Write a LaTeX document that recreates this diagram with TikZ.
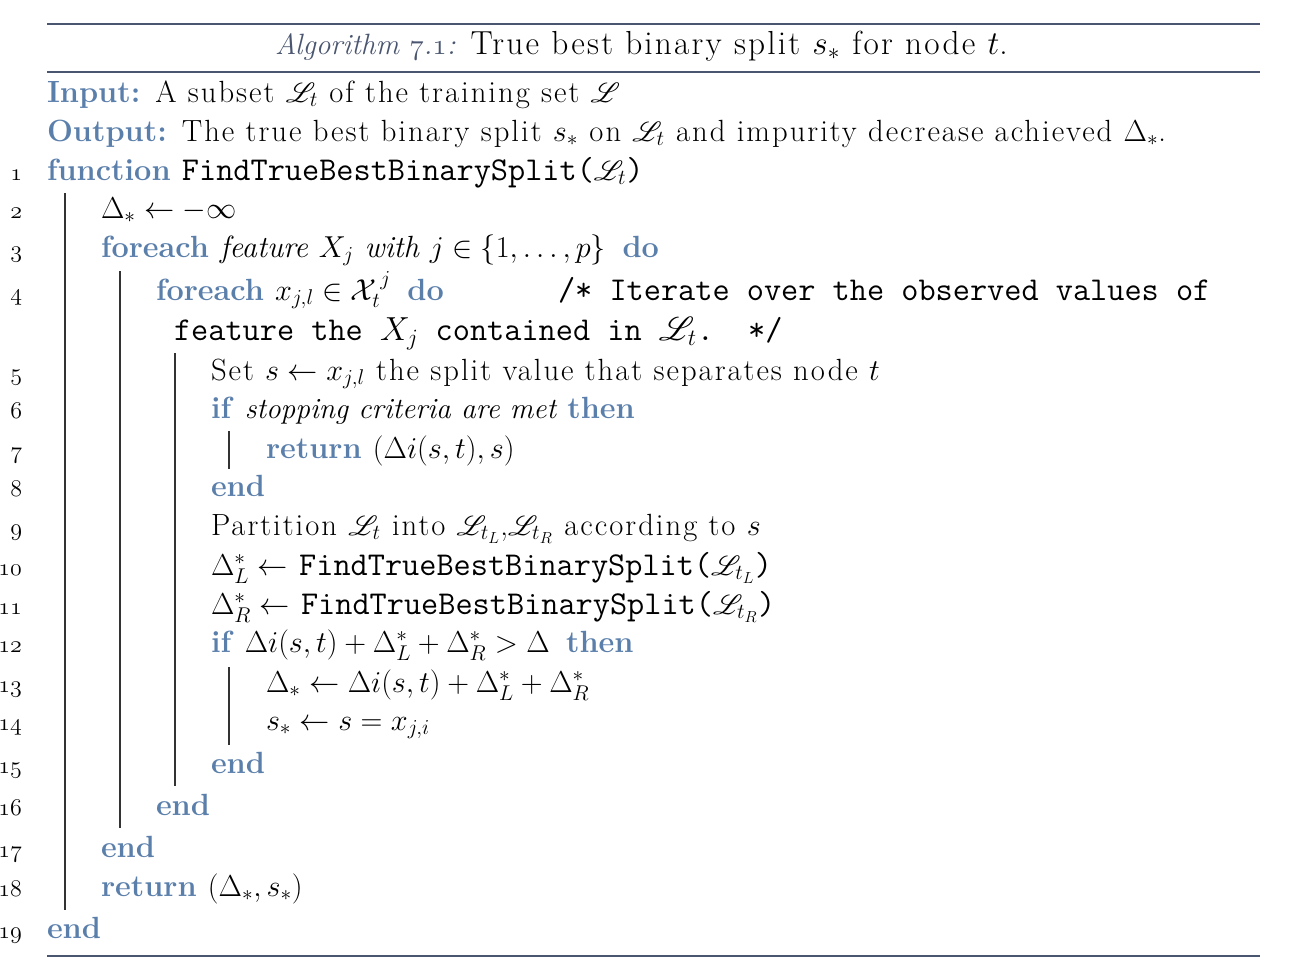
\RequirePackage{fix-cm}
\documentclass[tikz,border=0pt]{standalone}
\usepackage{amsmath,amssymb}
\usepackage{mathrsfs}
\usepackage{fontspec}
\setmainfont{Latin Modern Roman}[LetterSpace=6.5,
  BoldFeatures={LetterSpace=0},
  ItalicFeatures={LetterSpace=0},
  BoldItalicFeatures={LetterSpace=0}]
\DeclareMathSizes{23}{22.7}{16}{12}
\definecolor{kwblue}{HTML}{5B7FAB}
\definecolor{rulec}{HTML}{4A5670}
\definecolor{vline}{HTML}{333333}
\newcommand{\kw}[1]{\textcolor{kwblue}{\textbf{#1}}}
\newcommand{\fn}[1]{{\fontsize{25pt}{28pt}\selectfont\ttfamily #1}}
\newcommand{\cm}[1]{{\fontsize{25pt}{28pt}\selectfont\ttfamily #1}}
\newcommand{\sL}{\mathscr{L}}
\newcommand{\osn}[1]{$\mathnormal{#1}$}
\newcommand{\itx}[1]{{\fontsize{22pt}{26pt}\selectfont\itshape #1}}
\begin{document}
\begin{tikzpicture}[x=0.75pt,y=-0.75pt,
  every node/.style={inner sep=0pt,outer sep=0pt,font=\fontsize{23pt}{27pt}\selectfont},
  txt/.style={anchor=base west},
  num/.style={anchor=base east,font=\fontsize{18pt}{21pt}\selectfont},
  toprule/.style={draw=rulec,line width=1.5pt},
  vl/.style={draw=vline,line width=0.9pt}]
\useasboundingbox (0,0) rectangle (1312,974);
\draw[toprule] (47,24) -- (1260,24);
\draw[toprule] (47,72) -- (1260,72);
\draw[toprule] (47,956) -- (1260,956);
\node[anchor=base west] (title) at (275,55) {\textcolor{rulec}{\itx{Algorithm \osn{7}.\osn{1}:}} {\fontsize{25pt}{28pt}\selectfont True best binary split $s_*$ for node $t$.}};
\node[txt] (input) at (47,102) {\kw{Input:} A subset $\sL_t$ of the training set $\sL$};
\node[txt] (output) at (47,141) {\kw{Output:} The true best binary split $s_*$ on $\sL_t$ and impurity decrease achieved $\Delta_*$.};
% line numbers
\node[num] (n1) at (22,180) {\osn{1}};
\node[num] (n2) at (22,218) {\osn{2}};
\node[num] (n3) at (22,257) {\osn{3}};
\node[num] (n4) at (22,300) {\osn{4}};
\node[num] (n5) at (22,380) {\osn{5}};
\node[num] (n6) at (22,418) {\osn{6}};
\node[num] (n7) at (22,458) {\osn{7}};
\node[num] (n8) at (22,496) {\osn{8}};
\node[num] (n9) at (22,535) {\osn{9}};
\node[num] (n10) at (22,575) {\osn{10}};
\node[num] (n11) at (22,614) {\osn{11}};
\node[num] (n12) at (22,652) {\osn{12}};
\node[num] (n13) at (22,692) {\osn{13}};
\node[num] (n14) at (22,730) {\osn{14}};
\node[num] (n15) at (22,773) {\osn{15}};
\node[num] (n16) at (22,815) {\osn{16}};
\node[num] (n17) at (22,857) {\osn{17}};
\node[num] (n18) at (22,896) {\osn{18}};
\node[num] (n19) at (22,938) {\osn{19}};
% code lines
\node[txt] (l1) at (47,180) {\kw{function} \fn{FindTrueBestBinarySplit(}$\sL_t$\fn{)}};
\node[txt] (l2) at (101,218) {$\Delta_* \leftarrow -\infty$};
\node[txt] (l3) at (101,257) {\kw{foreach} \textit{feature $X_j$ with $j \in \{1,\dots,p\}$}\, \kw{do}};
\node[txt] (l4) at (156,300) {\kw{foreach} $x_{j,l} \in \mathcal{X}_t^{\,j}$\, \kw{do}};
\node[txt] (c4) at (558,300) {\cm{/* Iterate over the observed values of}};
\node[txt] (c4b) at (174,340) {\cm{feature the $X_j$ contained in $\sL_t$.~~*/}};
\node[txt] (l5) at (211,380) {Set $s \leftarrow x_{j,l}$ the split value that separates node $t$};
\node[txt] (l6) at (211,418) {\kw{if} \itx{stopping criteria are met} \kw{then}};
\node[txt] (l7) at (266,458) {\kw{return} $(\Delta i(s,t),s)$};
\node[txt] (l8) at (211,496) {\kw{end}};
\node[txt] (l9) at (211,535) {Partition $\sL_t$ into $\sL_{t_L}$,$\sL_{t_R}$ according to $s$};
\node[txt] (l10) at (211,575) {$\Delta^*_L \leftarrow$ \fn{FindTrueBestBinarySplit(}$\sL_{t_L}$\fn{)}};
\node[txt] (l11) at (211,614) {$\Delta^*_R \leftarrow$ \fn{FindTrueBestBinarySplit(}$\sL_{t_R}$\fn{)}};
\node[txt] (l12) at (211,652) {\kw{if} $\Delta i(s,t) + \Delta^*_L + \Delta^*_R > \Delta$\, \kw{then}};
\node[txt] (l13) at (266,692) {$\Delta_* \leftarrow \Delta i(s,t) + \Delta^*_L + \Delta^*_R$};
\node[txt] (l14) at (266,730) {$s_* \leftarrow s = x_{j,i}$};
\node[txt] (l15) at (211,773) {\kw{end}};
\node[txt] (l16) at (156,815) {\kw{end}};
\node[txt] (l17) at (101,857) {\kw{end}};
\node[txt] (l18) at (101,896) {\kw{return} $(\Delta_*,s_*)$};
\node[txt] (l19) at (47,938) {\kw{end}};
% block lines
\coordinate (v1a) at (65,193); \coordinate (v1b) at (65,910);
\coordinate (v2a) at (120,271); \coordinate (v2b) at (120,828);
\coordinate (v3a) at (175,353); \coordinate (v3b) at (175,786);
\coordinate (v4a) at (229,431); \coordinate (v4b) at (229,469);
\coordinate (v5a) at (229,667); \coordinate (v5b) at (229,745);
\draw[vl] (v1a) -- (v1b);
\draw[vl] (v2a) -- (v2b);
\draw[vl] (v3a) -- (v3b);
\draw[vl] (v4a) -- (v4b);
\draw[vl] (v5a) -- (v5b);
\end{tikzpicture}
\end{document}
